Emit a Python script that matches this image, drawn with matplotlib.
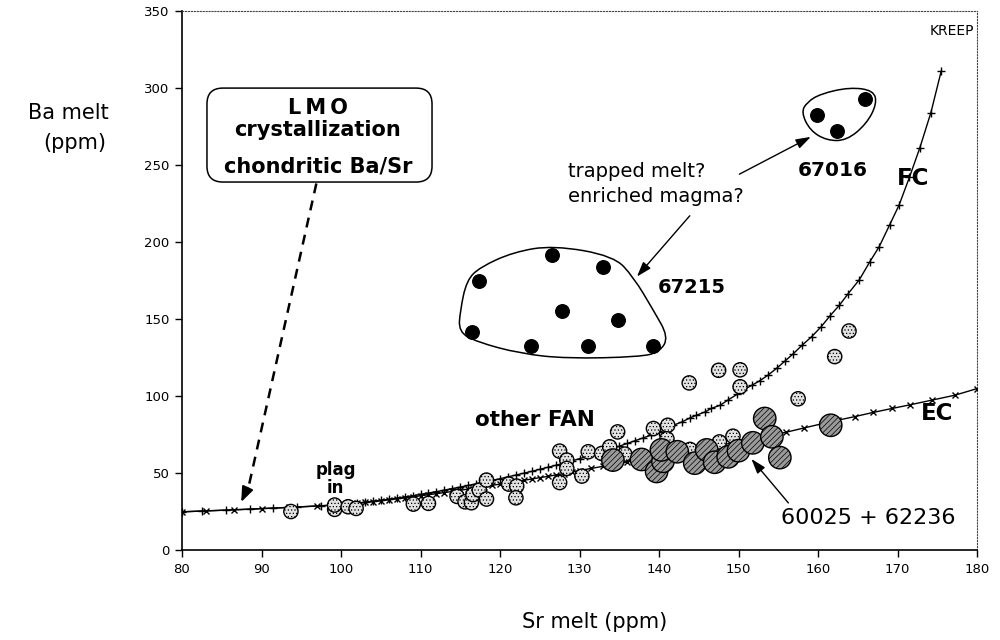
import numpy as np
import matplotlib
matplotlib.use("Agg")
import matplotlib.pyplot as plt
from matplotlib.path import Path
from matplotlib.patches import PathPatch, FancyBboxPatch

plt.rcParams['font.family'] = ['DejaVu Sans']
plt.rcParams['hatch.linewidth'] = 0.5

# fractional crystallization model (FC)
fc_sr = [80.0, 82.5, 85.5, 88.5, 91.5, 94.5, 97.5, 100.0, 101.0, 102.0, 103.0, 104.0,
         105.0, 106.0, 107.0, 108.0, 109.0, 110.0, 111.0, 112.0, 113.0, 114.0, 115.0,
         116.0, 117.0, 118.0, 119.0, 120.0, 121.0, 122.0, 123.0, 124.0, 125.0, 126.0,
         127.0, 128.0, 129.0, 130.0, 131.0, 132.0, 133.0, 134.0, 135.0, 136.0, 137.0,
         138.0, 139.0, 140.0, 141.0, 141.8, 142.9, 143.9, 144.7, 145.8, 146.6, 147.7,
         148.7, 149.8, 150.6, 151.7, 152.7, 153.7, 154.8, 155.8, 156.9, 158.0, 159.2,
         160.4, 161.5, 162.7, 163.8, 165.2, 166.5, 167.7, 169.0, 170.2, 171.5, 172.8,
         174.2, 175.5]
fc_ba = [24.8, 25.3, 25.9, 26.5, 27.2, 27.9, 28.7, 29.5, 30.0, 30.5, 31.0, 31.6,
         32.2, 32.9, 33.6, 34.4, 35.2, 36.1, 37.0, 37.9, 38.9, 39.9, 40.9,
         41.9, 43.0, 44.1, 45.2, 46.3, 47.5, 48.7, 49.9, 51.1, 52.4, 53.7,
         55.0, 56.4, 57.8, 59.3, 60.8, 62.4, 64.0, 65.7, 67.4, 69.2, 71.0,
         72.8, 74.6, 76.4, 78.5, 81.0, 83.2, 85.8, 87.5, 89.7, 92.0, 94.0,
         97.5, 101.0, 104.0, 107.0, 110.0, 113.5, 118.0, 122.5, 127.5, 133.0, 138.5,
         145.0, 152.0, 159.0, 166.5, 175.5, 187.0, 197.0, 211.0, 224.0, 242.0, 261.0,
         284.0, 311.0]

# equilibrium crystallization model (EC)
ec_sr = [80.0, 83.0, 86.5, 90.0, 93.5, 97.0, 100.0, 101.0, 102.0, 103.0, 104.0, 105.0,
         106.0, 107.0, 108.0, 109.0, 110.0, 111.0, 112.0, 113.0, 114.0, 115.0, 116.0,
         117.0, 118.0, 119.0, 120.0, 121.0, 122.0, 123.0, 124.0, 125.0, 126.0, 127.0,
         128.0, 129.0, 130.0, 131.5, 133.0, 134.5, 136.0, 137.5, 139.0, 140.5, 142.0,
         143.5, 145.0, 146.5, 148.0, 149.5, 151.0, 152.5, 154.0, 156.0, 158.2, 160.5,
         162.5, 164.6, 166.9, 169.3, 171.6, 174.3, 177.2, 180.0]
ec_ba = [24.8, 25.4, 26.1, 26.9, 27.7, 28.6, 29.5, 29.9, 30.4, 30.9, 31.4, 32.0,
         32.6, 33.2, 33.8, 34.5, 35.2, 35.9, 36.6, 37.3, 38.0, 38.8, 39.6,
         40.4, 41.2, 42.0, 42.8, 43.6, 44.4, 45.3, 46.1, 47.0, 47.8, 48.7,
         49.6, 50.5, 51.6, 53.0, 54.4, 55.8, 57.2, 58.6, 60.0, 61.3, 62.6,
         64.0, 65.4, 66.8, 68.3, 69.8, 71.3, 72.8, 74.3, 76.5, 79.2, 82.0,
         84.3, 86.6, 89.3, 91.9, 94.3, 97.3, 100.5, 104.8]

# other FAN samples
fan_sr = [93.7, 99.2, 99.2, 100.9, 101.9, 109.1, 111.0, 114.6, 115.6, 116.4, 116.6, 117.4,
          118.3, 118.3, 121.1, 122.1, 122.0, 127.5, 127.5, 128.4, 128.4, 130.3, 131.1,
          132.8, 133.8, 134.8, 135.7, 139.3, 141.1, 141.0, 143.9, 143.8, 147.5, 150.2,
          150.2, 147.6, 149.3, 157.5, 162.1, 163.9]
fan_ba = [25.0, 26.4, 29.2, 28.1, 27.0, 29.8, 30.3, 34.8, 31.3, 30.7, 36.0, 38.9,
          33.1, 45.4, 42.8, 41.5, 33.9, 64.2, 43.8, 58.4, 53.0, 48.0, 63.8,
          62.7, 67.0, 76.7, 62.3, 78.9, 81.0, 72.2, 65.3, 108.5, 116.7, 117.0,
          106.0, 70.2, 73.9, 98.2, 125.6, 142.2]

# 60025 + 62236
fer_sr = [134.2, 137.8, 139.7, 140.5, 140.3, 142.3, 144.5, 146.0, 147.0, 148.7, 150.0,
          151.8, 153.3, 154.2, 155.2, 161.6]
fer_ba = [58.4, 58.8, 51.0, 57.6, 65.0, 63.8, 56.4, 65.0, 57.0, 60.5, 64.5,
          69.6, 85.4, 73.5, 60.0, 81.0]

# 67215 and 67016
s67215_sr = [117.4, 126.5, 132.9, 127.8, 134.8, 116.5, 123.9, 131.1, 139.3]
s67215_ba = [174.4, 191.3, 183.7, 155.2, 149.6, 141.6, 132.5, 132.5, 132.5]
s67016_sr = [159.9, 165.9, 162.4]
s67016_ba = [282.7, 292.9, 271.9]

# outlines drawn round the two groups
blob1_sr = [126.7, 134.3, 136.8, 139.3, 141.2, 140.1, 137.6, 128.4, 122.5, 117.1, 114.8, 115.0, 115.8, 117.5, 121.7]
blob1_ba = [197.8, 191.0, 177.2, 155.6, 138.3, 128.6, 125.4, 124.3, 127.6, 135.1, 141.6, 155.6, 175.1, 183.7, 193.5]
blob2_sr = [164.0, 167.0, 167.4, 166.1, 163.6, 161.1, 159.0, 157.9, 158.6, 160.3]
blob2_ba = [300.5, 298.4, 289.7, 276.7, 265.9, 265.9, 272.4, 284.2, 290.7, 296.2]


def blob_patch(xs, ys):
    p = np.column_stack([xs, ys])
    n = len(p)
    mids = (p + np.roll(p, -1, axis=0)) / 2
    verts = [mids[-1]]
    codes = [Path.MOVETO]
    for i in range(n):
        verts += [p[i], mids[i]]
        codes += [Path.CURVE3, Path.CURVE3]
    return PathPatch(Path(verts, codes), facecolor='none', edgecolor='black', lw=1.1, zorder=2)


fig = plt.figure(figsize=(10, 6.4), dpi=100)
ax = fig.add_axes([0.182, 0.1406, 0.795, 0.8422])

ax.plot(fc_sr, fc_ba, '-', color='black', lw=1, marker='+', ms=6, mew=1.0, zorder=3)
ax.plot(ec_sr, ec_ba, '-', color='black', lw=1, marker='x', ms=5, mew=1.0, zorder=3)

ax.scatter(fan_sr, fan_ba, s=105, facecolor='#e2e2e2', edgecolor='black', hatch='.....',
           linewidth=1.0, zorder=4)
ax.scatter(fer_sr, fer_ba, s=260, facecolor='#9a9a9a', edgecolor='black', hatch='//////',
           linewidth=1.0, zorder=5)
ax.scatter(s67215_sr, s67215_ba, s=95, color='black', zorder=5)
ax.scatter(s67016_sr, s67016_ba, s=95, color='black', zorder=5)

ax.add_patch(blob_patch(blob1_sr, blob1_ba))
ax.add_patch(blob_patch(blob2_sr, blob2_ba))

# LMO box
box = FancyBboxPatch((0.0314, 0.6827), 0.2831, 0.1743, transform=ax.transAxes,
                     boxstyle='round,pad=0,rounding_size=0.02', mutation_aspect=795 / 539,
                     facecolor='white', edgecolor='black', lw=1.1, zorder=6)
ax.add_patch(box)
bold = dict(fontweight='bold', fontsize=15, ha='center', va='center', transform=ax.transAxes, zorder=7)
ax.text(0.171, 0.820, 'L\u2009M\u2009O', **bold)
ax.text(0.171, 0.779, 'crystallization', **bold)
ax.text(0.171, 0.712, 'chondritic Ba/Sr', **bold)

# arrows
ax.plot([96.9, 88.2], [238, 37], ls=(0, (4, 3)), color='black', lw=1.8, zorder=3)
ax.annotate('', xy=(87.3, 29.5), xytext=(88.4, 42),
            arrowprops=dict(arrowstyle='-|>,head_length=0.9,head_width=0.35', color='black', lw=1.5))
arrow = dict(arrowstyle='-|>,head_length=0.9,head_width=0.3', color='black', lw=1.0)
ax.annotate('', xy=(137.0, 176.2), xytext=(144.1, 218.4), arrowprops=arrow)
ax.annotate('', xy=(159.4, 269.1), xytext=(149.8, 243.2), arrowprops=arrow)
ax.annotate('', xy=(151.4, 60.5), xytext=(156.5, 29.2), arrowprops=arrow, zorder=6)

# labels inside the plot
ax.text(179.6, 337, 'KREEP', fontsize=10, ha='right', va='center',
        family=['Liberation Sans Narrow', 'DejaVu Sans'])
ax.text(99.3, 52, 'plag', fontsize=12, fontweight='bold', ha='center', va='center')
ax.text(99.3, 40, 'in', fontsize=12, fontweight='bold', ha='center', va='center')
ax.text(124.4, 84.3, 'other FAN', fontsize=15.5, fontweight='bold', ha='center', va='center')
ax.text(139.9, 170.6, '67215', fontsize=14, fontweight='bold', ha='left', va='center')
ax.text(128.6, 245.8, 'trapped melt?', fontsize=14, ha='left', va='center')
ax.text(128.6, 229.6, 'enriched magma?', fontsize=14, ha='left', va='center')
ax.text(161.8, 246.4, '67016', fontsize=14.5, fontweight='bold', ha='center', va='center')
ax.text(169.9, 241.2, 'FC', fontsize=16.5, fontweight='bold', ha='left', va='center')
ax.text(173.0, 88.8, 'EC', fontsize=16.5, fontweight='bold', ha='left', va='center')
ax.text(166.3, 20.8, '60025 + 62236', fontsize=16, ha='center', va='center')

ax.set_xlim(80, 180)
ax.set_ylim(0, 350)
ax.set_xticks(np.arange(80, 181, 10))
ax.set_yticks(np.arange(0, 351, 50))
ax.tick_params(direction='out', length=5, width=1, labelsize=9.5, pad=4)
for side in ['left', 'bottom']:
    ax.spines[side].set_linewidth(1.2)
for side in ['top', 'right']:
    ax.spines[side].set_linestyle(':')
    ax.spines[side].set_color('#444444')

fig.text(0.068, 0.823, 'Ba melt', fontsize=15, ha='center', va='center')
fig.text(0.075, 0.777, '(ppm)', fontsize=15, ha='center', va='center')
fig.text(0.595, 0.028, 'Sr melt (ppm)', fontsize=15, ha='center', va='center')

fig.savefig('out.png', dpi=100)
